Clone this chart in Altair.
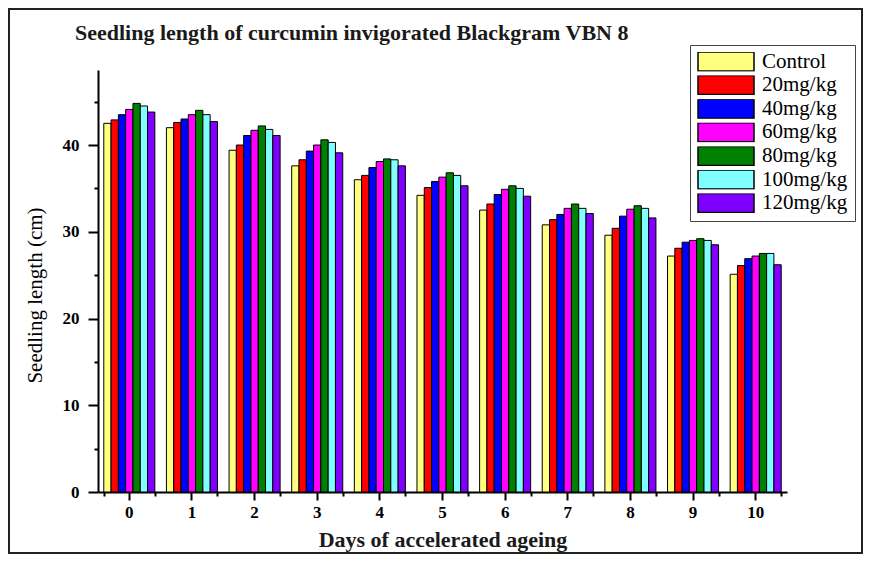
import altair as alt
import pandas as pd

days = list(range(11))
treatments = ["Control", "20mg/kg", "40mg/kg", "60mg/kg", "80mg/kg", "100mg/kg", "120mg/kg"]
colors = ["#FFFF80", "#FF0000", "#0000FF", "#FF00FF", "#008000", "#80FFFF", "#8000FF"]

control = [42.5, 42.0, 39.4, 37.6, 36.0, 34.2, 32.5, 30.8, 29.6, 27.2, 25.1]
mg20 = [42.9, 42.6, 40.0, 38.3, 36.5, 35.1, 33.2, 31.4, 30.4, 28.1, 26.1]
mg40 = [43.5, 43.0, 41.1, 39.3, 37.4, 35.8, 34.3, 32.0, 31.8, 28.8, 26.9]
mg60 = [44.1, 43.5, 41.7, 40.0, 38.1, 36.3, 34.9, 32.7, 32.6, 29.0, 27.2]
mg80 = [44.8, 44.0, 42.2, 40.6, 38.4, 36.8, 35.3, 33.2, 33.0, 29.2, 27.5]
mg100 = [44.5, 43.5, 41.8, 40.3, 38.3, 36.5, 35.0, 32.7, 32.7, 29.0, 27.5]
mg120 = [43.8, 42.7, 41.1, 39.1, 37.6, 35.3, 34.1, 32.1, 31.6, 28.5, 26.2]

series = [control, mg20, mg40, mg60, mg80, mg100, mg120]
rows = []
for t, vals in zip(treatments, series):
    for d, v in zip(days, vals):
        rows.append({"day": d, "treatment": t, "length": v})
df = pd.DataFrame(rows)

FONT = "Liberation Serif"

xscale = alt.Scale(paddingInner=0.185, paddingOuter=0.0925)
yscale = alt.Scale(domain=[0, 48.65], nice=False, zero=True)

bars = alt.Chart(df).mark_bar(stroke="black", strokeWidth=1, opacity=1).encode(
    x=alt.X("day:O", scale=xscale, axis=alt.Axis(
        orient="bottom", labelAngle=0, labelFont=FONT, labelFontSize=17, labelFontWeight="bold",
        labelColor="black", labelPadding=4, tickSize=8, tickWidth=2, tickColor="black",
        domainColor="black", domainWidth=2, grid=False,
        title="Days of accelerated ageing", titleFont=FONT, titleFontSize=22,
        titleFontWeight="bold", titleColor="#1a1a1a", titleY=54, titleBaseline="alphabetic")),
    xOffset=alt.XOffset("treatment:N", sort=treatments,
                        scale=alt.Scale(paddingInner=0, paddingOuter=0)),
    y=alt.Y("length:Q", scale=yscale, axis=alt.Axis(
        orient="left", values=[0, 10, 20, 30, 40], labelFont=FONT, labelFontSize=17,
        labelFontWeight="bold", labelColor="black", labelPadding=9, tickSize=10,
        tickWidth=2, tickColor="black", domainColor="black", domainWidth=2, grid=False,
        title="Seedling length (cm)", titleFont=FONT, titleFontSize=21,
        titleFontWeight="normal", titleColor="black", titleX=-57, titleY=225,
        titleBaseline="alphabetic")),
    color=alt.Color("treatment:N", sort=treatments,
                    scale=alt.Scale(domain=treatments, range=colors),
                    legend=alt.Legend(title=None)),
)

minor = alt.Chart(df).mark_point(opacity=0).encode(
    x=alt.X("day:O", scale=xscale, axis=alt.Axis(
        orient="bottom", tickBand="extent", labels=False, tickSize=4, tickWidth=2,
        tickColor="black", domain=False, grid=False, title=None)),
    y=alt.Y("length:Q", scale=yscale, axis=alt.Axis(
        orient="left", values=[5, 15, 25, 35, 45], labels=False, tickSize=4, tickWidth=2,
        tickColor="black", domain=False, grid=False, title=None)),
)

frame = alt.Chart(alt.Data(values=[{"k": 1}])).mark_rect(
    filled=False, stroke="#222222", strokeWidth=2
).encode(
    x=alt.value(-89), x2=alt.value(764), y=alt.value(-61), y2=alt.value(483)
)

chart = alt.layer(frame, bars, minor).resolve_axis(
    x="independent", y="independent"
).properties(
    width=689, height=422,
    title=alt.TitleParams(
        "Seedling length of curcumin invigorated Blackgram VBN 8",
        anchor="start", dx=67, dy=37, offset=0, font=FONT, fontSize=22,
        fontWeight="bold", color="#1a1a1a"),
    autosize=alt.AutoSizeParams(type="none"),
    padding={"left": 90, "top": 62, "right": 76, "bottom": 62},
    background="white",
).configure_view(
    stroke="transparent"
).configure_legend(
    orient="none", legendX=592, legendY=-25, padding=7,
    strokeColor="#444444", fillColor="white",
    symbolType="M-1,-0.339H1V0.339H-1Z", symbolSize=3136,
    symbolStrokeColor="black", symbolStrokeWidth=1.5, symbolOpacity=1,
    clipHeight=19, rowPadding=1.6,
    labelFont=FONT, labelFontSize=21, labelColor="black", labelOffset=7,
)

chart.save("out.html", embed_options={"renderer": "svg", "actions": False})
